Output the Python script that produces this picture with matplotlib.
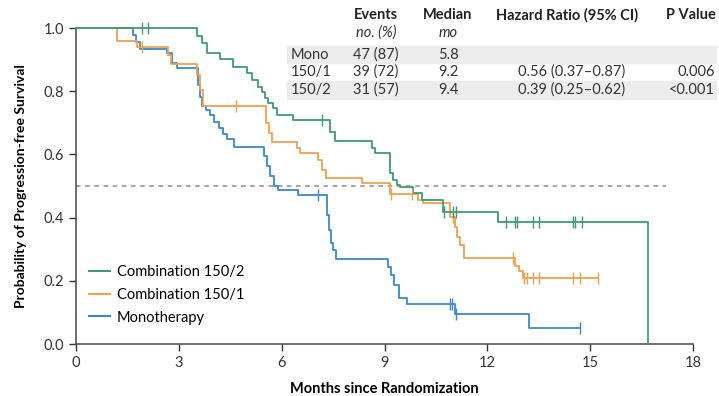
import numpy as np
import matplotlib.pyplot as plt
from matplotlib.patches import Rectangle
from matplotlib.lines import Line2D

plt.rcParams['font.family'] = ['Lato', 'DejaVu Sans']

# Kaplan-Meier step data (time in months, survival after the step)
combo2Times = [0, 3.53, 3.67, 3.82, 4.20, 4.58, 4.99, 5.13, 5.31, 5.42, 5.51, 5.60, 5.74, 5.86,
               6.33, 7.41, 7.55, 8.63, 8.72, 9.15, 9.24, 9.36, 9.45, 9.83, 10.09, 10.70, 12.30, 16.68]
combo2Surv = [1.0, 0.975, 0.953, 0.921, 0.902, 0.877, 0.858, 0.835, 0.813, 0.797, 0.778, 0.763, 0.747, 0.725,
              0.709, 0.671, 0.642, 0.620, 0.604, 0.541, 0.519, 0.503, 0.497, 0.478, 0.456, 0.418, 0.386, 0.0]
combo2End = 16.68
combo2Censor = [1.92, 2.10, 7.18, 10.75, 11.0, 11.1, 12.55, 12.8, 12.86, 13.33, 13.5, 14.5, 14.55, 14.75]

combo1Times = [0, 1.20, 1.78, 2.68, 2.77, 3.53, 3.62, 3.70, 5.54, 5.63, 5.71, 6.44, 6.53, 7.06, 7.17, 7.29,
               8.34, 9.15, 9.97, 10.12, 10.90, 11.05, 11.11, 11.20, 11.31, 12.82, 12.92, 13.03]
combo1Surv = [1.0, 0.959, 0.940, 0.915, 0.886, 0.851, 0.804, 0.753, 0.699, 0.668, 0.639, 0.620, 0.604, 0.582, 0.551, 0.525,
              0.509, 0.475, 0.456, 0.446, 0.402, 0.370, 0.339, 0.313, 0.272, 0.247, 0.231, 0.209]
combo1End = 15.22
combo1Censor = [1.93, 4.66, 9.2, 9.8, 11.0, 12.74, 13.06, 13.15, 13.33, 13.5, 14.5, 14.7, 15.22]

monoTimes = [0, 1.66, 1.75, 1.87, 2.65, 2.80, 2.94, 3.56, 3.62, 3.67, 3.79, 3.91, 4.02, 4.17, 4.29, 4.40, 4.61,
             5.48, 5.57, 5.66, 5.77, 5.89, 6.47, 7.32, 7.38, 7.43, 7.49, 7.58, 9.10, 9.18, 9.27, 9.42, 9.65,
             11.05, 13.21]
monoSurv = [1.0, 0.978, 0.956, 0.934, 0.921, 0.889, 0.873, 0.820, 0.782, 0.753, 0.741, 0.725, 0.703, 0.684, 0.665, 0.649, 0.623,
            0.595, 0.563, 0.532, 0.500, 0.487, 0.472, 0.408, 0.361, 0.320, 0.297, 0.269, 0.244, 0.218, 0.187, 0.146, 0.127,
            0.095, 0.051]
monoEnd = 14.69
monoCensor = [7.06, 10.9, 10.97, 11.08, 14.69]

# table
groups = ["Mono", "150/1", "150/2"]
events = ["47 (87)", "39 (72)", "31 (57)"]
medians = ["5.8", "9.2", "9.4"]
hazardRatios = ["", "0.56 (0.37\u20130.87)", "0.39 (0.25\u20130.62)"]
pValues = ["", "0.006", "<0.001"]

green = '#3f9b6f'
orange = '#f0a050'
blue = '#3a88c8'

W, H = 719, 396
fig = plt.figure(figsize=(W / 100, H / 100), dpi=100)
ax = fig.add_axes([76 / W, 1 - 344 / H, 617 / W, 316 / H])


def survAt(times, surv, t):
    idx = np.searchsorted(times, t, side='right') - 1
    return np.array(surv)[idx]


def drawCurve(times, surv, end, censor, color):
    t = list(times) + [end]
    s = list(surv) + [surv[-1]]
    ax.step(t, s, where='post', color=color, lw=1.3, clip_on=False, zorder=3)
    cy = [survAt(times, surv, c) for c in censor]
    ax.plot(censor, cy, ls='none', marker='|', ms=8, mew=1.0, color=color, clip_on=False, zorder=4)


drawCurve(monoTimes, monoSurv, monoEnd, monoCensor, blue)
drawCurve(combo1Times, combo1Surv, combo1End, combo1Censor, orange)
drawCurve(combo2Times, combo2Surv, combo2End, combo2Censor, green)

ax.plot([0, 17.2], [0.5, 0.5], ls=(0, (3, 3)), color='#8a8a8a', lw=1.1, zorder=2)

ax.set_xlim(0, 18)
ax.set_ylim(0, 1.0)
ax.set_xticks(np.arange(0, 19, 3))
ax.set_yticks(np.arange(0, 1.01, 0.2))
ax.set_yticklabels([f"{v:.1f}" for v in np.arange(0, 1.01, 0.2)])
ax.tick_params(labelsize=10.5, length=5, width=1, colors='#333333')
for side in ['top', 'right']:
    ax.spines[side].set_visible(False)
for side in ['left', 'bottom']:
    ax.spines[side].set_linewidth(1.1)
    ax.spines[side].set_color('#444444')

ax.set_xlabel("Months since Randomization", fontsize=10.5, fontweight='bold', labelpad=9)
ax.set_ylabel("Probability of Progression-free Survival", fontsize=10, fontweight='bold', labelpad=12)

handles = [Line2D([0], [0], color=green, lw=1.5),
           Line2D([0], [0], color=orange, lw=1.5),
           Line2D([0], [0], color=blue, lw=1.5)]
ax.legend(handles, ["Combination 150/2", "Combination 150/1", "Monotherapy"],
          loc='lower left', bbox_to_anchor=(0.0, 0.02), frameon=False, fontsize=10.5,
          handlelength=1.4, handletextpad=0.5, labelspacing=0.6)

# table in figure pixel coordinates
def fx(px):
    return px / W


def fy(py):
    return 1 - py / H


for py0, py1 in [(46, 63), (81, 99)]:
    fig.patches.append(Rectangle((fx(287), fy(py1)), fx(716) - fx(287), (py1 - py0) / H,
                                 transform=fig.transFigure, color='#ececec', zorder=0))

hdr = dict(fontsize=10.5, fontweight='bold', va='center', color='#222222')
fig.text(fx(376), fy(15), "Events", ha='center', **hdr)
fig.text(fx(448), fy(15), "Median", ha='center', **hdr)
fig.text(fx(567), fy(15), "Hazard Ratio (95% CI)", ha='center', **hdr)
fig.text(fx(716), fy(15), "P Value", ha='right', **hdr)
fig.text(fx(376), fy(33), "no. (%)", ha='center', va='center', fontsize=10.5, style='italic', color='#333333')
fig.text(fx(448), fy(33), "mo", ha='center', va='center', fontsize=10.5, style='italic', color='#333333')

rowY = [55, 72, 90]
body = dict(fontsize=10.5, va='center', color='#333333')
for i, g in enumerate(groups):
    fig.text(fx(291), fy(rowY[i]), g, ha='left', **body)
    fig.text(fx(376), fy(rowY[i]), events[i], ha='center', **body)
    fig.text(fx(448), fy(rowY[i]), medians[i], ha='center', **body)
    fig.text(fx(572), fy(rowY[i]), hazardRatios[i], ha='center', **body)
    fig.text(fx(715), fy(rowY[i]), pValues[i], ha='right', **body)

fig.savefig("out.png", dpi=100)
